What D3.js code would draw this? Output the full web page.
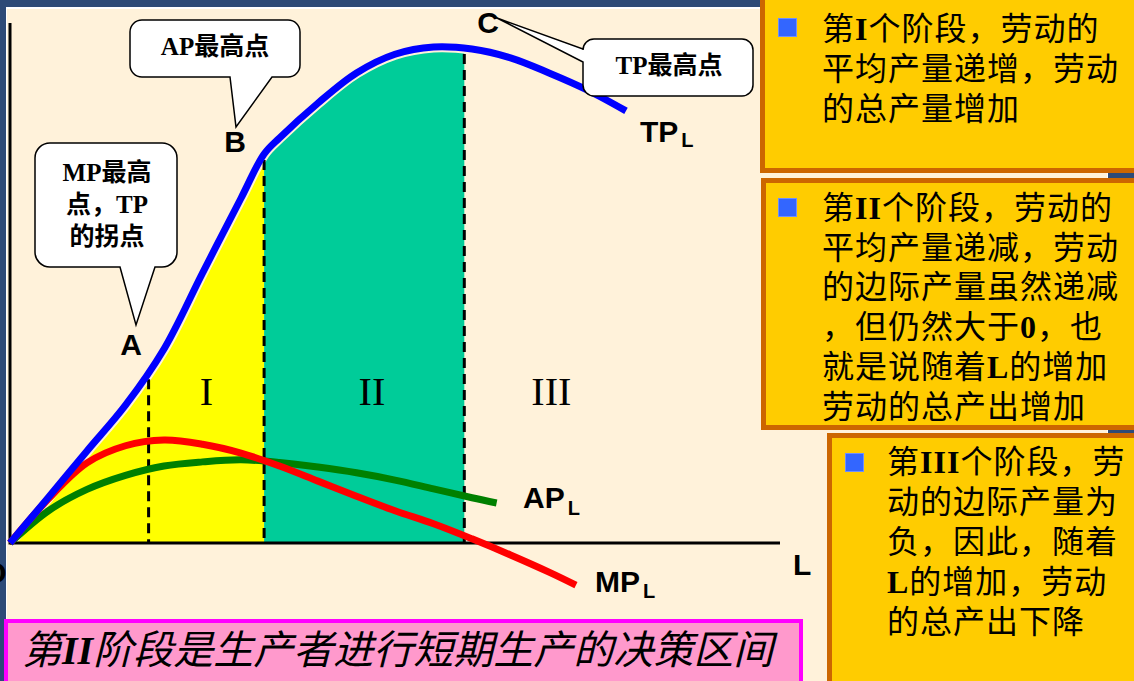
<!DOCTYPE html>
<html><head><meta charset="utf-8">
<script src="https://cdn.jsdelivr.net/npm/d3@7"></script>
<style>html,body{margin:0;padding:0;background:#2D4A77;overflow:hidden} svg{display:block}</style>
</head><body>
<svg id="c" width="1134" height="681"></svg>
<script>
// ---------------- data ----------------
const stageNames  = ["I", "II", "III"];
const stageBounds = [1.8, 3.3, 5.9];          // L at points A, B, C
const stageLabelL = [2.55, 4.7, 7.03];        // where the roman numerals sit
const pointNames  = ["A", "B", "C"];

const tpL      = [0, 0.5, 1, 1.5, 2, 2.5, 3, 3.3, 3.5, 4, 4.5, 5, 5.5, 6, 6.5, 7, 7.5, 8];
const tpValues = [0, 8.8, 17.7, 26.5, 37.3, 51.9, 66.3, 74.8, 77.9, 84.6, 90.4, 94.0, 95.4, 95.0, 93.3, 90.4, 87.1, 83.1];

const mpL      = [0, 0.5, 1, 1.5, 2, 2.5, 3, 3.5, 4, 4.5, 5, 5.5, 6, 6.5, 7, 7.35];
const mpValues = [0, 8.5, 15.4, 18.7, 19.8, 19.0, 17.3, 14.8, 11.9, 9.0, 6.2, 3.7, 0.8, -2.3, -5.6, -8.1];

const apL      = [0, 0.5, 1, 1.5, 2, 2.5, 3, 3.5, 4, 4.5, 5, 5.5, 6, 6.32];
const apValues = [0, 6.2, 10.3, 13.0, 14.8, 15.6, 16.0, 15.5, 14.6, 13.5, 12.1, 10.4, 8.7, 7.7];

const box1Lines = ["第I个阶段，劳动的", "平均产量递增，劳动", "的总产量增加"];
const box2Lines = ["第II个阶段，劳动的", "平均产量递减，劳动", "的边际产量虽然递减", "，但仍然大于0，也", "就是说随着L的增加", "劳动的总产出增加"];
const box3Lines = ["第III个阶段，劳", "动的边际产量为", "负，因此，随着", "L的增加，劳动", "的总产出下降"];
const bannerText = "第II阶段是生产者进行短期生产的决策区间";

// ---------------- drawing ----------------
const svg = d3.select("#c");
const W = 1134, H = 681;
const CREAM = "#FFF2DA", NAVY = "#2D4A77";
const CJK = "'Noto Sans CJK SC'";
const SERIF = "'Liberation Serif'";
const SANS = "'Liberation Sans', Arial, sans-serif";

svg.append("rect").attr("width", W).attr("height", H).attr("fill", NAVY);
svg.append("rect").attr("x", 6).attr("y", 7).attr("width", 1102).attr("height", 680).attr("fill", "#FFFFFF");
svg.append("rect").attr("x", 7).attr("y", 9).attr("width", 1100).attr("height", 680).attr("fill", CREAM);

const x = d3.scaleLinear().domain([0, 10]).range([10, 780]);
const y = d3.scaleLinear().domain([0, 100]).range([543, 23]);

const tpData = tpL.map((l, i) => [l, tpValues[i]]);
const mpData = mpL.map((l, i) => [l, mpValues[i]]);
const apData = apL.map((l, i) => [l, apValues[i]]);

const curve = d3.curveCatmullRom.alpha(0.5);
const line = d3.line().x(d => x(d[0])).y(d => y(d[1])).curve(curve);
const area = d3.area().x(d => x(d[0])).y0(y(0)).y1(d => y(d[1])).curve(curve);

const defs = svg.append("defs");
defs.append("clipPath").attr("id", "clipI").append("rect")
  .attr("x", x(0)).attr("y", 0).attr("width", x(stageBounds[1]) - x(0)).attr("height", y(0));
defs.append("clipPath").attr("id", "clipII").append("rect")
  .attr("x", x(stageBounds[1])).attr("y", 0).attr("width", x(stageBounds[2]) - x(stageBounds[1])).attr("height", y(0));

svg.append("path").datum(tpData).attr("d", area).attr("fill", "#FFFF00").attr("clip-path", "url(#clipI)");
svg.append("path").datum(tpData).attr("d", area).attr("fill", "#00CC99").attr("clip-path", "url(#clipII)");

// cream halo under the TP line
svg.append("path").datum(tpData).attr("d", line).attr("fill", "none")
  .attr("stroke", CREAM).attr("stroke-width", 11);

// hidden helper path to find y on TP
const tpNode = svg.append("path").datum(tpData).attr("d", line).attr("fill", "none").attr("stroke", "none").node();
function yAtX(node, px) {
  let lo = 0, hi = node.getTotalLength();
  for (let k = 0; k < 40; k++) {
    const mid = (lo + hi) / 2;
    if (node.getPointAtLength(mid).x < px) lo = mid; else hi = mid;
  }
  return node.getPointAtLength(lo).y;
}

// dashed stage boundaries
stageBounds.forEach(l => {
  const px = x(l);
  svg.append("line").attr("x1", px).attr("x2", px)
    .attr("y1", yAtX(tpNode, px) + 6).attr("y2", y(0))
    .attr("stroke", "#000").attr("stroke-width", 3).attr("stroke-dasharray", "10,6");
});

// axes
svg.append("line").attr("x1", x(0)).attr("x2", x(10)).attr("y1", y(0)).attr("y2", y(0))
  .attr("stroke", "#000").attr("stroke-width", 3);
svg.append("line").attr("x1", x(0)).attr("x2", x(0)).attr("y1", y(0) + 1.5).attr("y2", y(100))
  .attr("stroke", "#000").attr("stroke-width", 3);

// curves
svg.append("path").datum(apData).attr("d", line).attr("fill", "none")
  .attr("stroke", "#008000").attr("stroke-width", 7);
svg.append("path").datum(mpData).attr("d", line).attr("fill", "none")
  .attr("stroke", "#FF0000").attr("stroke-width", 7);
svg.append("path").datum(tpData).attr("d", line).attr("fill", "none")
  .attr("stroke", "#0000FF").attr("stroke-width", 7);

// stage numerals
stageNames.forEach((s, i) => {
  svg.append("text").attr("x", x(stageLabelL[i])).attr("y", 405)
    .attr("text-anchor", "middle").attr("font-family", SERIF).attr("font-size", 40)
    .attr("fill", "#000").text(s);
});

// curve labels
function subLabel(px, py, main, sub, dy) {
  const t = svg.append("text").attr("x", px).attr("y", py)
    .attr("font-family", SANS).attr("font-weight", "bold").attr("font-size", 30).attr("fill", "#000");
  t.append("tspan").text(main);
  t.append("tspan").attr("dx", 3).attr("dy", dy).attr("font-size", 20).text(sub);
}
subLabel(640, 142, "TP", "L", 5);
subLabel(523, 508, "AP", "L", 7);
subLabel(595, 592, "MP", "L", 6);
svg.append("text").attr("x", 793).attr("y", 575).attr("font-family", SANS).attr("font-weight", "bold")
  .attr("font-size", 30).text("L");

// point letters
const pointPos = [[131, 355], [235, 152], [488, 33]];
pointNames.forEach((n, i) => {
  svg.append("text").attr("x", pointPos[i][0]).attr("y", pointPos[i][1]).attr("text-anchor", "middle")
    .attr("font-family", SANS).attr("font-weight", "bold").attr("font-size", 30).text(n);
});

// callouts
function calloutPath(x0, y0, x1, y1, r, p) {
  let d = `M${x0 + r},${y0} H${x1 - r} A${r},${r} 0 0 1 ${x1},${y0 + r} V${y1 - r} A${r},${r} 0 0 1 ${x1 - r},${y1}`;
  if (p.side === "bottom") d += ` H${p.b} L${p.tx},${p.ty} L${p.a},${y1}`;
  d += ` H${x0 + r} A${r},${r} 0 0 1 ${x0},${y1 - r}`;
  if (p.side === "left") d += ` V${p.b} L${p.tx},${p.ty} L${x0},${p.a}`;
  d += ` V${y0 + r} A${r},${r} 0 0 1 ${x0 + r},${y0} Z`;
  return d;
}
function callout(x0, y0, x1, y1, r, p) {
  svg.append("path").attr("d", calloutPath(x0, y0, x1, y1, r, p))
    .attr("fill", "#FFFFFF").attr("stroke", "#000").attr("stroke-width", 1.5);
}
function richText(g, px, py, str, size, anchor, extra) {
  const t = g.append("text").attr("x", px).attr("y", py).attr("font-size", size)
    .attr("text-anchor", anchor || "start").attr("fill", "#000");
  if (extra) extra(t);
  const parts = str.match(/[A-Za-z0-9]+|[^A-Za-z0-9]+/g);
  parts.forEach(s => {
    const ts = t.append("tspan").text(s);
    if (/[A-Za-z0-9]/.test(s)) ts.attr("font-family", SERIF).attr("font-weight", "bold");
    else ts.attr("font-family", CJK);
  });
  return t;
}
callout(130, 20, 300, 77, 12, {side: "bottom", a: 230, b: 272, tx: 236, ty: 127});
callout(35, 143, 177, 267, 15, {side: "bottom", a: 120, b: 155, tx: 136, ty: 325});
callout(583, 39, 753, 96, 11, {side: "left", a: 49, b: 62, tx: 497, ty: 18});

const boldCJK = t => t.attr("font-weight", "bold");
richText(svg, 215, 55, "AP最高点", 25, "middle", boldCJK);
richText(svg, 107, 181, "MP最高", 25, "middle", boldCJK);
richText(svg, 107, 213, "点，TP", 25, "middle", boldCJK);
richText(svg, 107, 245, "的拐点", 25, "middle", boldCJK);
richText(svg, 669, 74, "TP最高点", 25, "middle", boldCJK);

// right boxes
function box(ox, oy, oh, lines, bx, by, tx, baselines) {
  svg.append("rect").attr("x", ox + 2.5).attr("y", oy + 2.5).attr("width", 420).attr("height", oh - 5)
    .attr("fill", "#FFCC00").attr("stroke", "#CC6600").attr("stroke-width", 5);
  svg.append("rect").attr("x", bx).attr("y", by).attr("width", 18).attr("height", 18)
    .attr("fill", "#3366FF").attr("stroke", "#6F8FFF").attr("stroke-width", 1);
  lines.forEach((ln, i) => {
    richText(svg, tx, baselines[i], ln, 32, "start", t => t.attr("letter-spacing", "1px"));
  });
}
box(760, -5, 178, box1Lines, 778.5, 18.5, 822, [40, 80, 120]);
box(761, 178, 252, box2Lines, 778.5, 198.5, 822, [219, 259, 298, 338, 378, 418]);
box(827, 433, 300, box3Lines, 845.5, 453.5, 887, [473, 513, 553, 593, 633]);

// bottom banner
svg.append("rect").attr("x", 6).attr("y", 621).attr("width", 795).attr("height", 62)
  .attr("fill", "#FF99CC").attr("stroke", "#FF00FF").attr("stroke-width", 4);
richText(svg, 22, 664, bannerText, 40, "start", t => t.attr("font-style", "italic"));

// origin label
svg.append("text").attr("x", -5).attr("y", 583).attr("text-anchor", "middle")
  .attr("font-family", SANS).attr("font-weight", "bold").attr("font-size", 30).text("O");
</script>
</body></html>
